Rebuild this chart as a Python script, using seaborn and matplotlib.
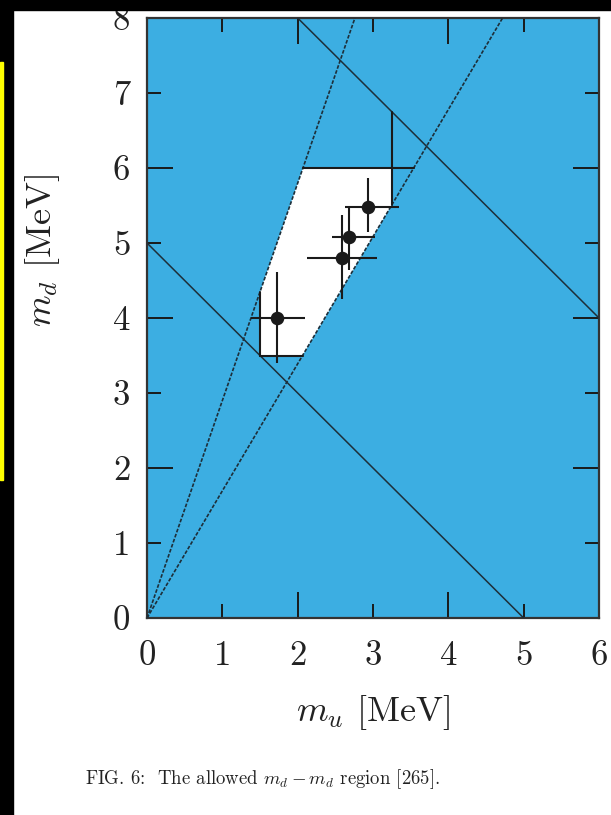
import numpy as np
import pandas as pd
import matplotlib
matplotlib.use("Agg")
import matplotlib.pyplot as plt
import seaborn as sns
from matplotlib.patches import Rectangle

# ---------------- data ----------------
ratio_bounds = [0.345, 0.59]   # m_u / m_d lines through the origin (dashed)
sum_bounds = [5.0, 10.0]       # m_u + m_d lines (solid)
mu_bounds = [1.5, 3.25]        # m_u limits (segments)
md_bounds = [3.5, 6.0]         # m_d limits (segments)

pt_mu = [1.72, 2.585, 2.68, 2.94]
pt_md = [4.00, 4.80, 5.08, 5.48]
mu_err_lo = [0.34, 0.465, 0.22, 0.31]
mu_err_hi = [0.38, 0.465, 0.34, 0.40]
md_err_lo = [0.60, 0.54, 0.44, 0.33]
md_err_hi = [0.61, 0.57, 0.40, 0.39]

x_ticks = [0, 1, 2, 3, 4, 5, 6]
y_ticks = [0, 1, 2, 3, 4, 5, 6, 7, 8]
xlabel = r"$m_u$ [MeV]"
ylabel = r"$m_d$ [MeV]"
caption = r"FIG. 6:  The allowed $m_d - m_d$ region [265]."

# ---------------- style ----------------
sns.set_theme(style="ticks")
plt.rcParams["font.family"] = ["cmr10", "DejaVu Serif"]
plt.rcParams["mathtext.fontset"] = "cm"
plt.rcParams["axes.formatter.use_mathtext"] = True

BLUE = "#3caee2"
LINE = "#1d2f3a"
DARK = "#1a1a1a"

W, H = 611, 815
fig = plt.figure(figsize=(W / 100, H / 100), dpi=100)
fig.patch.set_facecolor("white")
ax = fig.add_axes([147 / W, 1 - 618 / H, (599 - 147) / W, 600 / H])
ax.set_facecolor(BLUE)
ax.set_xlim(0, 6)
ax.set_ylim(0, 8)

# allowed region (white polygon) built from the constraints
rlo, rhi = ratio_bounds
slo, shi = sum_bounds
mulo, muhi = mu_bounds
mdlo, mdhi = md_bounds
poly_x = [mulo, rhi * mdlo, muhi, muhi, rlo * mdhi, mulo]
poly_y = [mdlo, mdlo, muhi / rhi, mdhi, mdhi, mulo / rlo]
ax.fill(poly_x, poly_y, color="white", zorder=1, lw=0)

# ratio lines (dashed) through origin
ymax = 8
for r in ratio_bounds:
    df = pd.DataFrame({"mu": [0, r * ymax * 1.2], "md": [0, ymax * 1.2]})
    sns.lineplot(data=df, x="mu", y="md", ax=ax, color=LINE, lw=1.2,
                 sort=False, estimator=None, zorder=3,
                 linestyle=(0, (2.2, 1.0)))

# sum lines (solid)
for s in sum_bounds:
    df = pd.DataFrame({"mu": [0, s], "md": [s, 0]})
    sns.lineplot(data=df, x="mu", y="md", ax=ax, color=LINE, lw=1.1,
                 sort=False, estimator=None, zorder=3)

# limit segments
segs = [
    ([slo - mdlo, rhi * mdlo], [mdlo, mdlo]),
    ([rlo * mdhi, rhi * mdhi], [mdhi, mdhi]),
    ([mulo, mulo], [slo - mulo, mulo / rlo]),
    ([muhi, muhi], [muhi / rhi, shi - muhi]),
]
for sx, sy in segs:
    df = pd.DataFrame({"mu": sx, "md": sy})
    sns.lineplot(data=df, x="mu", y="md", ax=ax, color=DARK, lw=1.5,
                 sort=False, estimator=None, zorder=4)

# data points with error bars
ax.errorbar(pt_mu, pt_md,
            xerr=[mu_err_lo, mu_err_hi], yerr=[md_err_lo, md_err_hi],
            fmt="none", ecolor=DARK, elinewidth=1.5, capsize=0, zorder=5)
sns.scatterplot(x=pt_mu, y=pt_md, ax=ax, color=DARK, s=95, edgecolor=DARK,
                linewidth=0, zorder=6)

ax.set_xlabel("")
ax.set_ylabel("")

# ticks: long at even, short at odd, all labelled
ax.set_xticks([t for t in x_ticks if t % 2 == 0])
ax.set_xticklabels([str(t) for t in x_ticks if t % 2 == 0])
ax.set_xticks([t for t in x_ticks if t % 2 == 1], minor=True)
ax.set_xticklabels([str(t) for t in x_ticks if t % 2 == 1], minor=True)
ax.set_yticks([t for t in y_ticks if t % 2 == 0])
ax.set_yticklabels([str(t) for t in y_ticks if t % 2 == 0])
ax.set_yticks([t for t in y_ticks if t % 2 == 1], minor=True)
ax.set_yticklabels([str(t) for t in y_ticks if t % 2 == 1], minor=True)

for which, length in (("major", 18.5), ("minor", 10)):
    ax.tick_params(axis="both", which=which, direction="in", length=length,
                   width=1.4, color=DARK, top=True, right=True,
                   labelsize=25, labelcolor="#222222")
ax.tick_params(axis="x", which="both", pad=16)
ax.tick_params(axis="y", which="both", pad=12)
for lab in ax.get_xticklabels(which="both") + ax.get_yticklabels(which="both"):
    lab.set_fontfamily(["cmr10", "DejaVu Serif"])

for sp in ax.spines.values():
    sp.set_color("#333333")
    sp.set_linewidth(1.6)

fig.text(373 / W, 1 - 712 / H, xlabel, ha="center", va="center",
         fontsize=26, color="#222222")
fig.text(42 / W, 1 - 250 / H, ylabel, ha="center", va="center",
         fontsize=26, rotation=90, color="#222222")
fig.text(85 / W, 1 - 779 / H, caption, ha="left", va="center",
         fontsize=13.5, color="#222222")

# page decorations: black bands and yellow marker line
fig.add_artist(Rectangle((0, 1 - 10 / H), 1, 10 / H, transform=fig.transFigure,
                         color="black", zorder=10))
fig.add_artist(Rectangle((0, 0), 13 / W, 1, transform=fig.transFigure,
                         color="black", zorder=10))
fig.add_artist(Rectangle((0, 1 - 480 / H), 3 / W, (480 - 62) / H,
                         transform=fig.transFigure, color="#ffff00", zorder=11))

fig.savefig("out.png", dpi=100, facecolor="white")
